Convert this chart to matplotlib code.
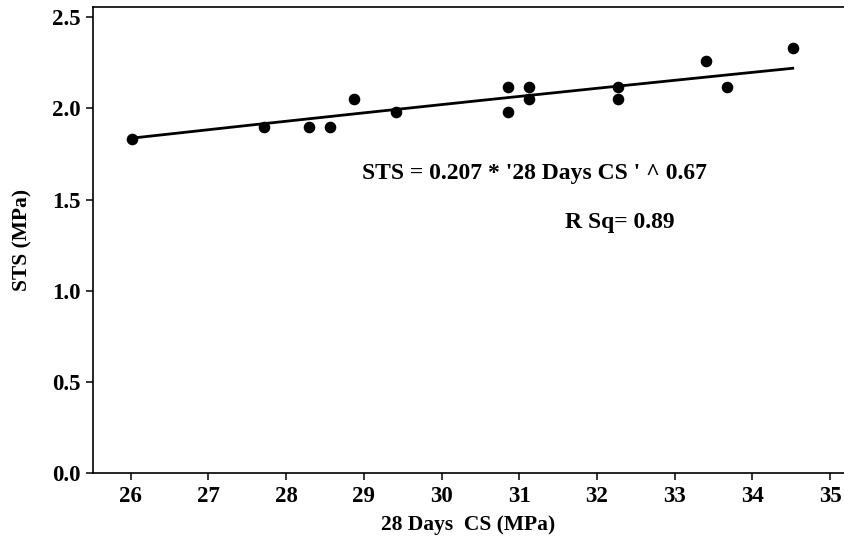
import numpy as np
import matplotlib
matplotlib.use("Agg")
import matplotlib.pyplot as plt

# 28-day compressive strength vs split tensile strength
cs_28 = [26.02, 27.71, 28.29, 28.57, 28.87, 29.42, 30.85, 30.85,
         31.12, 31.12, 32.27, 32.27, 33.40, 33.68, 34.52]
sts = [1.83, 1.90, 1.90, 1.90, 2.05, 1.98, 2.12, 1.98,
       2.12, 2.05, 2.12, 2.05, 2.26, 2.12, 2.33]

# power fit STS = a * CS ^ b
fit_a = 0.207
fit_b = 0.67
r_sq = 0.89

x_ticks = [26, 27, 28, 29, 30, 31, 32, 33, 34, 35]
y_ticks = [0.0, 0.5, 1.0, 1.5, 2.0, 2.5]

plt.rcParams['font.family'] = ['Liberation Serif', 'DejaVu Serif']
plt.rcParams['font.weight'] = 'bold'

fig = plt.figure(figsize=(8.44, 5.42), dpi=100)
ax = fig.add_axes([0.1098, 0.1273, 0.8902, 0.8592])

ax.scatter(cs_28, sts, s=54, color='black', zorder=3)

xs = np.linspace(min(cs_28), max(cs_28), 200)
ax.plot(xs, fit_a * xs ** fit_b, color='black', linewidth=2.0)

ax.text(31.2, 1.643, f"STS = {fit_a} * '28 Days CS ' ^ {fit_b}",
        ha='center', va='center', fontsize=17, fontweight='bold')
ax.text(32.30, 1.377, f"R Sq= {r_sq}",
        ha='center', va='center', fontsize=17, fontweight='bold')

ax.set_xlim(25.51, 35.18)
ax.set_ylim(0, 2.555)
ax.set_xticks(x_ticks)
ax.set_yticks(y_ticks)
ax.set_xticklabels([str(t) for t in x_ticks])
ax.set_yticklabels([f"{t:.1f}" for t in y_ticks])
ax.tick_params(direction='out', length=5, width=1.1, labelsize=16.5, pad=4)
for lbl in ax.get_xticklabels() + ax.get_yticklabels():
    lbl.set_fontweight('bold')

for side in ['left', 'bottom', 'top']:
    ax.spines[side].set_linewidth(1.2)
ax.spines['right'].set_visible(False)

ax.set_xlabel("28 Days  CS (MPa)", fontsize=15.5, fontweight='bold', labelpad=6)
ax.set_ylabel("STS (MPa)", fontsize=15.5, fontweight='bold', labelpad=14)

fig.savefig("out.png", dpi=100)
